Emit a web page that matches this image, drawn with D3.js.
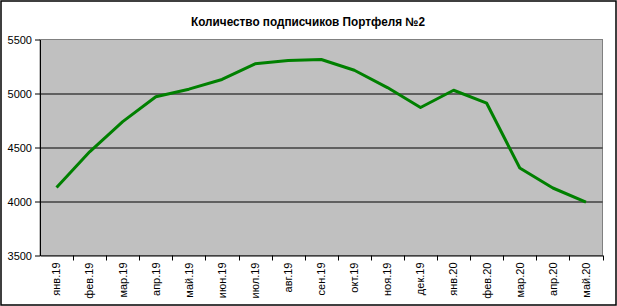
<!DOCTYPE html>
<html>
<head>
<meta charset="utf-8">
<script src="https://cdn.jsdelivr.net/npm/d3@7"></script>
<style>
  body { margin: 0; background: #fff; }
  text { font-family: Arial, "Liberation Sans", sans-serif; }
</style>
</head>
<body>
<div id="chart"></div>
<script>
const months = ["янв.19", "фев.19", "мар.19", "апр.19", "май.19", "июн.19", "июл.19", "авг.19", "сен.19",
    "окт.19", "ноя.19", "дек.19", "янв.20", "фев.20", "мар.20", "апр.20", "май.20"];
const subscribers = [4130, 4460, 4740, 4970, 5040, 5130, 5275, 5305, 5315,
    5215, 5055, 4870, 5030, 4910, 4310, 4125, 3995];
const yTicks = [3500, 4000, 4500, 5000, 5500];
const title = "Количество подписчиков Портфеля №2";

const W = 617, H = 306;
const margin = {top: 39.5, right: 14.5, bottom: 50.5, left: 40};
const width = W - margin.left - margin.right,
    height = H - margin.top - margin.bottom;

const root = d3.select("#chart").append("svg")
    .attr("width", W)
    .attr("height", H);

// outer frame
root.append("rect")
    .attr("x", 1).attr("y", 1)
    .attr("width", W - 2).attr("height", H - 2)
    .attr("fill", "#fff")
    .attr("stroke", "#000")
    .attr("stroke-width", 1.5);

root.append("text")
    .attr("x", 308)
    .attr("y", 26)
    .attr("text-anchor", "middle")
    .style("font-size", "12px")
    .style("font-weight", "bold")
    .attr("textLength", 234)
    .attr("lengthAdjust", "spacingAndGlyphs")
    .text(title);

const svg = root.append("g")
    .attr("transform", `translate(${margin.left},${margin.top})`);

const x = d3.scaleBand()
    .domain(months)
    .range([0, width]);

const y = d3.scaleLinear()
    .domain([3500, 5500])
    .range([height, 0]);

// plot area
svg.append("rect")
    .attr("width", width)
    .attr("height", height)
    .attr("fill", "#c0c0c0")
    .attr("stroke", "#808080");

// grid lines
svg.selectAll(".grid")
    .data(yTicks.filter(d => d > 3500 && d < 5500))
    .enter()
    .append("line")
    .attr("class", "grid")
    .attr("x1", 0).attr("x2", width)
    .attr("y1", d => Math.round(y(d)) + 0.5)
    .attr("y2", d => Math.round(y(d)) + 0.5)
    .attr("stroke", "#000");

// y axis
const yAxis = svg.append("g")
    .call(d3.axisLeft(y).tickValues(yTicks).tickFormat(d3.format("d"))
        .tickSize(5).tickPadding(3).tickSizeOuter(0));
yAxis.select(".domain").attr("stroke", "#000");
yAxis.selectAll("text").style("font-size", "11px").style("font-family", "Arial, 'Liberation Sans', sans-serif");

// x axis
const xAxis = svg.append("g")
    .attr("transform", `translate(0,${height})`)
    .call(d3.axisBottom(x).tickSize(0).tickSizeOuter(0));
xAxis.select(".domain").attr("stroke", "#000");
xAxis.selectAll("text")
    .style("font-size", "11px")
    .style("font-family", "Arial, 'Liberation Sans', sans-serif")
    .attr("transform", "rotate(-90)")
    .attr("text-anchor", "end")
    .attr("x", -7)
    .attr("y", 0)
    .attr("dy", "0.35em");

// category boundary ticks
svg.selectAll(".xtick")
    .data(months)
    .enter()
    .append("line")
    .attr("class", "xtick")
    .attr("x1", d => Math.round(x(d) + x.bandwidth()) + 0.5)
    .attr("x2", d => Math.round(x(d) + x.bandwidth()) + 0.5)
    .attr("y1", height)
    .attr("y2", height + 5)
    .attr("stroke", "#000");

// line
const line = d3.line()
    .x((d, i) => x(months[i]) + x.bandwidth() / 2)
    .y(d => y(d));

svg.append("path")
    .datum(subscribers)
    .attr("d", line)
    .attr("fill", "none")
    .attr("stroke", "#008000")
    .attr("stroke-width", 3)
    .attr("stroke-linejoin", "round");
</script>
</body>
</html>
